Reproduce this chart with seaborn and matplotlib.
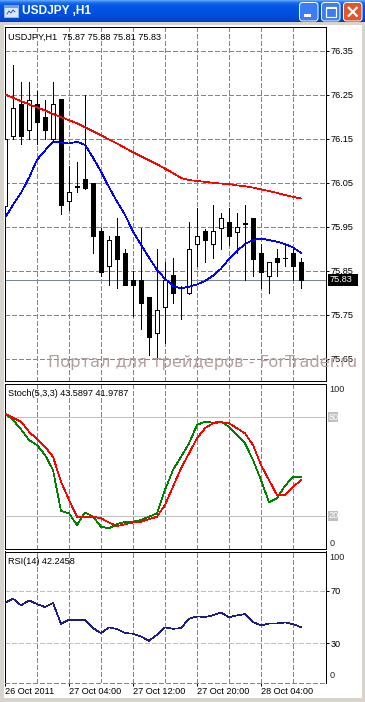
import matplotlib
matplotlib.use("Agg")
import matplotlib.pyplot as plt
import matplotlib.colors as mcolors
from matplotlib.patches import Rectangle, FancyBboxPatch
import numpy as np
import pandas as pd
import seaborn as sns

# ---------------- data ----------------
symbol_title = "USDJPY ,H1"
header_main = "USDJPY,H1  75.87 75.88 75.81 75.83"
header_stoch = "Stoch(5,3,3) 43.5897 41.9787"
header_rsi = "RSI(14) 42.2458"
watermark = "Портал для трейдеров - ForTrader.ru"

bar_index = list(range(38))
date_labels = ["26 Oct 2011", "27 Oct 04:00", "27 Oct 12:00", "27 Oct 20:00", "28 Oct 04:00"]
date_label_bars = [0, 8, 16, 24, 32]
grid_bars = [4, 8, 12, 16, 20, 24, 28, 32, 36]

open_ = [75.998, 76.157, 76.229, 76.170, 76.229, 76.199, 76.149, 76.239, 76.008, 76.040,
         76.058, 76.049, 75.941, 75.860, 75.930, 75.890, 75.830, 75.830, 75.790, 75.710,
         75.769, 75.841, 75.814, 75.799, 75.911, 75.941, 75.911, 75.948, 75.960, 75.939,
         75.957, 75.970, 75.890, 75.839, 75.879, 75.880, 75.890, 75.870]
high = [76.159, 76.318, 76.279, 76.279, 76.259, 76.238, 76.279, 76.241, 76.087, 76.098,
        76.250, 76.050, 75.948, 75.928, 75.970, 75.899, 75.850, 75.948, 75.791, 75.899,
        75.871, 75.879, 75.816, 75.960, 75.992, 75.945, 76.000, 75.981, 75.992, 75.981,
        76.000, 75.971, 75.911, 75.871, 75.899, 75.909, 75.899, 75.880]
low = [75.995, 76.149, 76.138, 76.149, 76.138, 76.149, 76.148, 75.979, 75.989, 76.028,
       76.036, 75.890, 75.839, 75.818, 75.811, 75.817, 75.748, 75.717, 75.659, 75.649,
       75.687, 75.777, 75.740, 75.798, 75.860, 75.869, 75.879, 75.899, 75.909, 75.890,
       75.830, 75.839, 75.811, 75.799, 75.839, 75.860, 75.830, 75.810]
close = [76.150, 76.220, 76.157, 76.238, 76.188, 76.170, 76.229, 76.000, 76.029, 76.042,
         76.039, 75.928, 75.848, 75.920, 75.877, 75.818, 75.818, 75.778, 75.699, 75.761,
         75.830, 75.799, 75.811, 75.899, 75.928, 75.920, 75.941, 75.970, 75.928, 75.949,
         75.959, 75.877, 75.848, 75.870, 75.869, 75.878, 75.860, 75.830]
ma_fast = [75.970, 76.000, 76.027, 76.061, 76.102, 76.123, 76.143, 76.141, 76.139, 76.143,
           76.136, 76.107, 76.075, 76.040, 76.007, 75.977, 75.939, 75.909, 75.880, 75.852,
           75.832, 75.816, 75.810, 75.814, 75.819, 75.827, 75.839, 75.855, 75.877, 75.895,
           75.911, 75.920, 75.923, 75.920, 75.916, 75.911, 75.903, 75.891]
ma_slow = [76.250, 76.243, 76.235, 76.228, 76.221, 76.214, 76.206, 76.199, 76.192, 76.185,
           76.176, 76.167, 76.158, 76.148, 76.139, 76.129, 76.119, 76.110, 76.101, 76.092,
           76.082, 76.072, 76.061, 76.056, 76.054, 76.052, 76.050, 76.048, 76.047, 76.044,
           76.042, 76.039, 76.035, 76.031, 76.027, 76.022, 76.018, 76.014]
stoch_main = [82.2, 78.2, 72.5, 66.0, 63.0, 57.0, 47.9, 23.0, 21.6, 14.5,
              22.2, 19.6, 13.5, 12.5, 15.0, 16.5, 16.5, 17.6, 19.6, 21.6,
              35.8, 47.9, 55.9, 64.0, 75.2, 77.2, 76.6, 77.2, 74.1, 69.1,
              64.0, 53.9, 41.8, 28.3, 30.7, 38.4, 43.5, 43.59]
stoch_signal = [82.2, 79.6, 77.2, 71.1, 66.5, 62.0, 55.9, 40.8, 29.7, 19.6,
                19.6, 19.6, 18.6, 16.0, 13.9, 15.0, 16.0, 16.5, 18.0, 19.6,
                26.7, 37.8, 48.9, 58.0, 67.1, 73.2, 76.2, 76.8, 76.2, 73.2,
                70.1, 63.0, 50.9, 41.8, 32.7, 32.7, 37.4, 41.98]
rsi = [60.8, 64.1, 59.0, 62.8, 60.0, 57.7, 60.8, 44.8, 47.9, 47.9,
       47.9, 41.5, 37.7, 42.1, 40.8, 37.7, 37.2, 35.1, 31.8, 36.4,
       42.1, 41.0, 41.5, 48.7, 50.5, 50.0, 51.3, 53.6, 49.8, 51.3,
       52.3, 46.2, 43.6, 45.1, 45.1, 45.9, 44.6, 42.25]
price_ticks = [76.35, 76.25, 76.15, 76.05, 75.95, 75.85, 75.75, 75.65]
last_price = 75.83
stoch_levels = [80, 20]
rsi_levels = [70, 30]

# ---------------- style ----------------
sns.set_style("white")
plt.rcParams['font.family'] = ['Liberation Sans', 'DejaVu Sans']
plt.rcParams['lines.scale_dashes'] = False
W, H = 365, 702
PX = 0.72  # points per pixel at dpi 100
LW = 0.5   # thin aliased line -> 1 px
FS = 6.6
GRID = '#778899'
DASH = (0, (2.9, 1.45))

fig = plt.figure(figsize=(W / 100, H / 100), dpi=100, facecolor='white')


def rect(x0, y0, x1, y1):
    return [x0 / W, 1 - y1 / H, (x1 - x0) / W, (y1 - y0) / H]


ax_main = fig.add_axes(rect(4.5, 27, 326, 380.5))
ax_sto = fig.add_axes(rect(4.5, 383.5, 326, 548.5), sharex=ax_main)
ax_rsi = fig.add_axes(rect(4.5, 551.5, 326, 683), sharex=ax_main)

for ax in (ax_main, ax_sto, ax_rsi):
    ax.set_facecolor('white')
    for s in ax.spines.values():
        s.set_color('black')
        s.set_linewidth(PX)
    for gb in grid_bars:
        ax.axvline(gb, color=GRID, lw=LW, ls=DASH, zorder=1, antialiased=False)
    ax.tick_params(axis='x', which='both', bottom=False, labelbottom=False)
    ax.tick_params(axis='y', left=False, labelleft=False)

ax_main.set_xlim(-0.0625, 40.125)

# ---- main panel ----
ax_main.set_ylim(75.6011, 76.4034)
for p in price_ticks:
    ax_main.axhline(p, color=GRID, lw=LW, ls=DASH, zorder=1, antialiased=False)
ax_main.axhline(last_price, color=GRID, lw=LW, zorder=1.5, antialiased=False)

ax_main.vlines(bar_index, low, high, color='black', lw=LW, zorder=3, antialiased=False)
bottoms = [min(o, c) for o, c in zip(open_, close)]
heights = [abs(c - o) for o, c in zip(open_, close)]
fills = ['white' if c > o else 'black' for o, c in zip(open_, close)]
ax_main.bar(bar_index, heights, bottom=bottoms, width=0.5, color=fills,
            edgecolor='black', linewidth=PX, zorder=4, antialiased=False)

sns.lineplot(x=bar_index, y=ma_slow, ax=ax_main, color='#ff0000', lw=LW,
             zorder=5, antialiased=False)
sns.lineplot(x=bar_index, y=ma_fast, ax=ax_main, color='#0000ff', lw=LW,
             zorder=5, antialiased=False)

ax_main.yaxis.tick_right()
ax_main.set_yticks(price_ticks, labels=[f"{p:.2f}" for p in price_ticks])
ax_main.tick_params(axis='y', right=True, labelright=True, length=2.2, width=PX,
                    pad=1.3, labelsize=FS, colors='black')

# ---- stochastic ----
ax_sto.set_ylim(0.3, 100.3)
for lv in stoch_levels:
    ax_sto.axhline(lv, color='#c0c0c0', lw=LW, zorder=1, antialiased=False)
sns.lineplot(x=bar_index, y=stoch_signal, ax=ax_sto, color='#ff0000', lw=LW,
             zorder=5, antialiased=False)
sns.lineplot(x=bar_index, y=stoch_main, ax=ax_sto, color='#008000', lw=LW,
             zorder=4, antialiased=False)

# ---- RSI ----
ax_rsi.set_ylim(-0.6, 100.3)
for lv in rsi_levels:
    ax_rsi.axhline(lv, color='#c0c0c0', lw=LW, ls=DASH, zorder=1, antialiased=False)
sns.lineplot(x=bar_index, y=rsi, ax=ax_rsi, color='#1c1c84', lw=LW,
             zorder=5, antialiased=False)
ax_rsi.spines['bottom'].set_visible(False)
ax_rsi.axhline(-0.6, color=GRID, lw=LW, ls=DASH, zorder=6, clip_on=False,
               antialiased=False)
ax_rsi.yaxis.tick_right()
ax_rsi.set_yticks(rsi_levels, labels=[str(v) for v in rsi_levels])
ax_rsi.tick_params(axis='y', right=True, labelright=True, length=2.2, width=PX,
                   pad=1.3, labelsize=FS, colors='black')
ax_rsi.set_xticks(date_label_bars, labels=date_labels)
ax_rsi.tick_params(axis='x', bottom=True, labelbottom=True, length=2.2, width=PX,
                   pad=0.8, labelsize=FS, colors='black')
for t in ax_rsi.get_xticklabels():
    t.set_horizontalalignment('left')

for ax in (ax_main, ax_sto, ax_rsi):
    ax.set_xlabel('')
    ax.set_ylabel('')

# ---------------- pixel overlay ----------------
ax_pix = fig.add_axes([0, 0, 1, 1], zorder=20)
ax_pix.set_xlim(0, W)
ax_pix.set_ylim(H, 0)
ax_pix.axis('off')
ax_pix.patch.set_alpha(0)

# window frame
frame_col = '#d8d4cc'
ax_pix.add_patch(Rectangle((0, 22), 4, H - 22, color=frame_col, lw=0))
ax_pix.add_patch(Rectangle((362, 22), 3, H - 22, color=frame_col, lw=0))
ax_pix.add_patch(Rectangle((0, 698), W, 4, color=frame_col, lw=0))
ax_pix.add_patch(Rectangle((0, 22), W, 3, color=frame_col, lw=0))

# title bar gradient
grad_hex = ['#5aa3ff', '#3a88f8', '#2473f2', '#1566ec', '#0b5de8', '#065ae6', '#0357e4',
            '#0256e3', '#0155e2', '#0054e1', '#0053e0', '#0052df', '#0051de', '#0050dd',
            '#004fdc', '#004edb', '#004cd9', '#004ad6', '#0048d3', '#0045cf', '#0042ca',
            '#003cc0']
grad = np.array([mcolors.to_rgb(c) for c in grad_hex]).reshape(-1, 1, 3)
ax_pix.imshow(grad, extent=[0, W, 22, 0], aspect='auto', interpolation='nearest', zorder=1)
ax_pix.set_xlim(0, W)
ax_pix.set_ylim(H, 0)

# window icon
ax_pix.add_patch(Rectangle((4, 5), 14, 12, facecolor='#dce8f8', edgecolor='#8fb4e8', lw=PX, zorder=2))
ax_pix.add_patch(Rectangle((4, 5), 14, 3, facecolor='#6f9fe6', lw=0, zorder=2))
ax_pix.plot([7, 9, 11, 13, 15], [14, 11, 13, 10, 12], color='#2a5fc0', lw=PX, zorder=3)
ax_pix.text(22, 11.5, symbol_title, color='white', fontsize=8.6, fontweight='bold',
            va='center', ha='left', zorder=3)

# buttons
for bx, fc in ((299.5, '#3b7df5'), (321.5, '#3b7df5'), (343.5, '#e2552e')):
    ax_pix.add_patch(FancyBboxPatch((bx, 2.5), 18.5, 18.5,
                                    boxstyle='round,pad=0,rounding_size=3',
                                    facecolor=fc, edgecolor='white', lw=PX, zorder=2))
ax_pix.add_patch(Rectangle((304, 14), 7, 3, color='white', lw=0, zorder=3))
ax_pix.add_patch(Rectangle((325.5, 6.5), 10.5, 10.5, facecolor='none', edgecolor='white',
                           lw=PX * 1.2, zorder=3))
ax_pix.add_patch(Rectangle((325.5, 6.5), 10.5, 2.5, color='white', lw=0, zorder=3))
ax_pix.plot([348, 357.5], [7, 16.5], color='white', lw=PX * 2.2, zorder=3, solid_capstyle='butt')
ax_pix.plot([348, 357.5], [16.5, 7], color='white', lw=PX * 2.2, zorder=3, solid_capstyle='butt')

# panel headers
ax_pix.text(8, 37, header_main, fontsize=FS, va='center', ha='left', color='black')
ax_pix.text(8, 393.5, header_stoch, fontsize=FS, va='center', ha='left', color='black')
ax_pix.text(8, 561.5, header_rsi, fontsize=FS, va='center', ha='left', color='black')

# stochastic / rsi scale labels
ax_pix.text(329.5, 390, "100", fontsize=FS, va='center', ha='left')
ax_pix.text(329.5, 543, "0", fontsize=FS, va='center', ha='left')
for lab, yc in (("80", 417), ("20", 516)):
    ax_pix.add_patch(Rectangle((328, yc - 4.7), 9.5, 9.4, color='#c0c0c0', lw=0, zorder=4))
    ax_pix.text(328.6, yc, lab, fontsize=FS, va='center', ha='left', color='white', zorder=5)
ax_pix.text(329.5, 558, "100", fontsize=FS, va='center', ha='left')
ax_pix.text(329.5, 676, "0", fontsize=FS, va='center', ha='left')

# last price tag
ax_pix.add_patch(Rectangle((327.5, 274), 30, 11.5, color='black', lw=0, zorder=4))
ax_pix.text(330, 279.8, f"{last_price:.2f}", fontsize=FS, va='center', ha='left',
            color='white', zorder=5)

# watermark
ax_pix.text(48, 367, watermark, fontsize=11.7, family='DejaVu Sans', color='#b4a0a0',
            va='baseline', ha='left', zorder=6)

fig.savefig('out.png', dpi=100, facecolor='white')
